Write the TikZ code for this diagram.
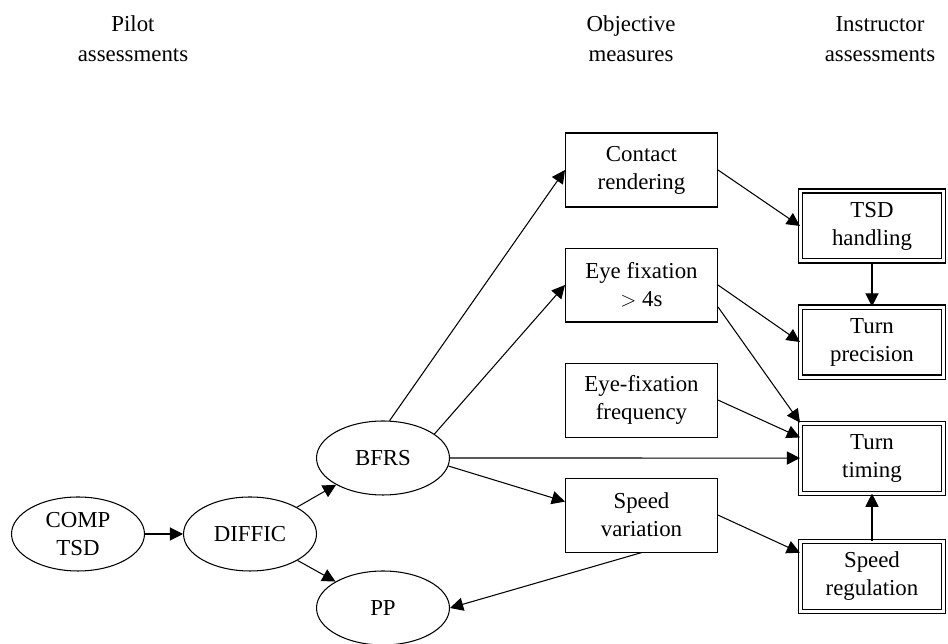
\documentclass[tikz,border=0pt]{standalone}
\usepackage{fontspec}
\setmainfont{Liberation Serif}
\usepackage{tikz}
\usetikzlibrary{shapes.geometric, arrows.meta, positioning}
\tikzstyle{rating} = [ellipse, minimum width=2.66cm, minimum height=1.48cm, inner sep=0pt, align=center, draw=black, line width=0.6pt]
\tikzstyle{measure} = [rectangle, minimum width=3.04cm, minimum height=1.48cm, inner sep=0pt, align=center, draw=black, line width=0.6pt]
\tikzstyle{judged} = [rectangle, minimum width=2.86cm, minimum height=1.40cm, inner sep=0pt, align=center, draw=black, line width=0.6pt, double, double distance=1.7pt]
\tikzstyle{heading} = [align=center, font=\fontsize{13}{17}\selectfont]
\tikzstyle{arrow} = [line width=0.6pt, -{Triangle[length=7.5pt, width=7.5pt]}]

\begin{document}
\begin{tikzpicture}[x=0.02cm, y=-0.02cm, every node/.style={font=\fontsize{13}{16}\selectfont}]
\useasboundingbox (0,0) rectangle (948,644);

\node (pilot) [heading] at (133,39) {Pilot\\assessments};
\node (objective) [heading] at (631,39) {Objective\\measures};
\node (instructor) [heading] at (880,39) {Instructor\\assessments};

\node (comp) [rating] at (78,534) {COMP\\TSD};
\node (diffic) [rating, right=0.76cm of comp] {DIFFIC};
\node (bfrs) [rating] at (383,458) {BFRS};
\node (pp) [rating] at (383,608) {PP};

\node (contact) [measure] at (641.5,170) {Contact\\rendering};
\node (fixation) [measure, below=0.8cm of contact] {Eye fixation\\$>$ 4s};
\node (frequency) [measure, below=0.8cm of fixation] {Eye-fixation\\frequency};
\node (variation) [measure, below=0.8cm of frequency] {Speed\\variation};

\node (handling) [judged] at (872,226) {TSD\\handling};
\node (precision) [judged, below=0.9cm of handling] {Turn\\precision};
\node (timing) [judged, below=0.9cm of precision] {Turn\\timing};
\node (regulation) [judged, below=0.94cm of timing] {Speed\\regulation};

\draw [arrow] (comp) -- (diffic);
\draw [arrow] (diffic) -- (bfrs);
\draw [arrow] (diffic) -- (pp);
\draw [arrow] (bfrs.80) -- (contact.west);
\draw [arrow] (bfrs.25) -- (fixation.west);
\draw [arrow] (bfrs.east) -- (timing.west);
\draw [arrow] (bfrs.-7) -- (variation.170);
\draw [arrow] (variation.south) -- (pp.east);
\draw [arrow] (contact.east) -- (handling.west);
\draw [arrow] (fixation.east) -- (precision.west);
\draw [arrow] (fixation.-16) -- (timing.north west);
\draw [arrow] (frequency.east) -- (timing.164);
\draw [arrow] (variation.east) -- (regulation.162);
\draw [arrow] (handling) -- (precision);
\draw [arrow] (regulation) -- (timing);

\end{tikzpicture}
\end{document}
